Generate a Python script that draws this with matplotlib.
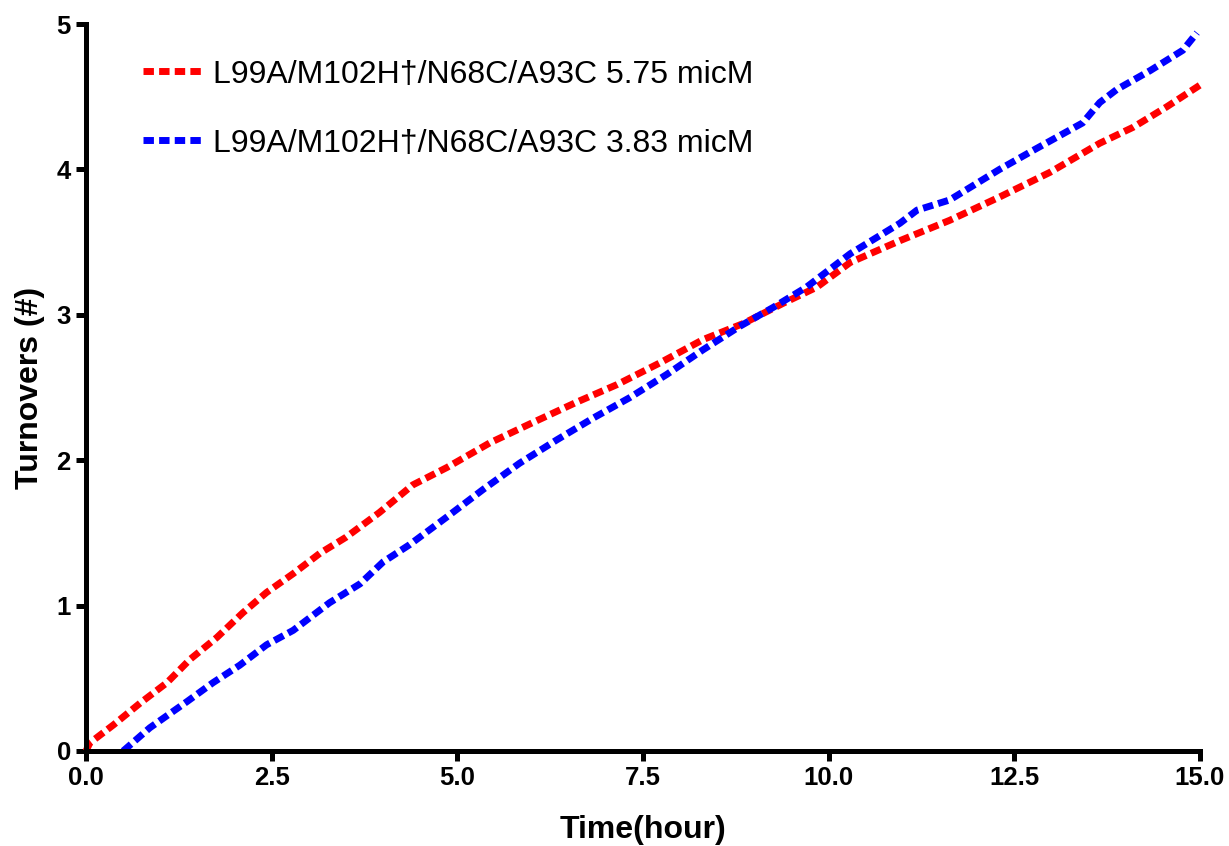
import matplotlib
matplotlib.use("Agg")
import matplotlib.pyplot as plt

plt.rcParams['font.family'] = ['Liberation Sans', 'DejaVu Sans']

red_label = "L99A/M102H\u2020/N68C/A93C 5.75 micM"
blue_label = "L99A/M102H\u2020/N68C/A93C 3.83 micM"

red_x = [0, 0.05, 0.37, 0.73, 1.09, 1.4, 1.76, 2.11, 2.43, 2.79, 3.15, 3.5, 3.95, 4.4, 4.86,
         5.44, 6.02, 6.61, 7.15, 7.73, 8.31, 8.85, 9.39, 9.84, 10.29, 10.96, 11.63, 12.3,
         12.98, 13.65, 14.1, 14.55, 15.0]
red_y = [0, 0.055, 0.18, 0.33, 0.47, 0.63, 0.78, 0.95, 1.09, 1.22, 1.36, 1.47, 1.64, 1.83, 1.95,
         2.12, 2.26, 2.40, 2.52, 2.67, 2.83, 2.94, 3.08, 3.19, 3.36, 3.51, 3.65, 3.81,
         3.98, 4.18, 4.29, 4.43, 4.58]

blue_x = [0.5, 0.86, 1.36, 1.71, 2.07, 2.43, 2.79, 3.28, 3.69, 4.0, 4.36, 4.86, 5.35, 5.84,
          6.34, 6.83, 7.32, 7.82, 8.31, 8.8, 9.25, 9.7, 10.29, 10.96, 11.19, 11.63, 12.3,
          12.75, 13.42, 13.65, 13.88, 14.33, 14.77, 14.96]
blue_y = [0.0, 0.16, 0.34, 0.47, 0.59, 0.73, 0.83, 1.02, 1.15, 1.3, 1.42, 1.61, 1.80, 1.98,
          2.14, 2.29, 2.43, 2.59, 2.76, 2.92, 3.05, 3.19, 3.42, 3.63, 3.72, 3.79, 4.0,
          4.13, 4.32, 4.46, 4.55, 4.68, 4.82, 4.94]

x_ticks = [0.0, 2.5, 5.0, 7.5, 10.0, 12.5, 15.0]
y_ticks = [0, 1, 2, 3, 4, 5]

fig = plt.figure(figsize=(12.29, 8.46), dpi=100)
ax = fig.add_axes([0.070, 0.1123, 0.9064, 0.8593])

dash = (0, (1.5, 0.75))
ax.plot(red_x, red_y, color='#ff0000', lw=5, linestyle=dash, label=red_label, clip_on=False)
ax.plot(blue_x, blue_y, color='#0000ff', lw=5, linestyle=dash, label=blue_label, clip_on=False)

ax.set_xlim(0, 15)
ax.set_ylim(0, 5)
ax.set_xticks(x_ticks)
ax.set_xticklabels([f"{v:.1f}" for v in x_ticks])
ax.set_yticks(y_ticks)
ax.set_yticklabels([str(v) for v in y_ticks])

for s in ['top', 'right']:
    ax.spines[s].set_visible(False)
for s in ['left', 'bottom']:
    ax.spines[s].set_linewidth(3.6)
ax.tick_params(axis='both', direction='out', length=7, width=3.6, labelsize=18.5, pad=4)
for lab in ax.get_xticklabels() + ax.get_yticklabels():
    lab.set_fontweight('bold')

ax.set_xlabel("Time(hour)", fontsize=23, fontweight='bold', labelpad=18)
ax.set_ylabel("Turnovers (#)", fontsize=23, fontweight='bold', labelpad=8)

ax.legend(loc='upper left', bbox_to_anchor=(0.051, 0.951), frameon=False, fontsize=23,
          borderpad=0, borderaxespad=0,
          handlelength=1.9, handletextpad=0.3, labelspacing=1.22)

fig.savefig("out.png", dpi=100)
